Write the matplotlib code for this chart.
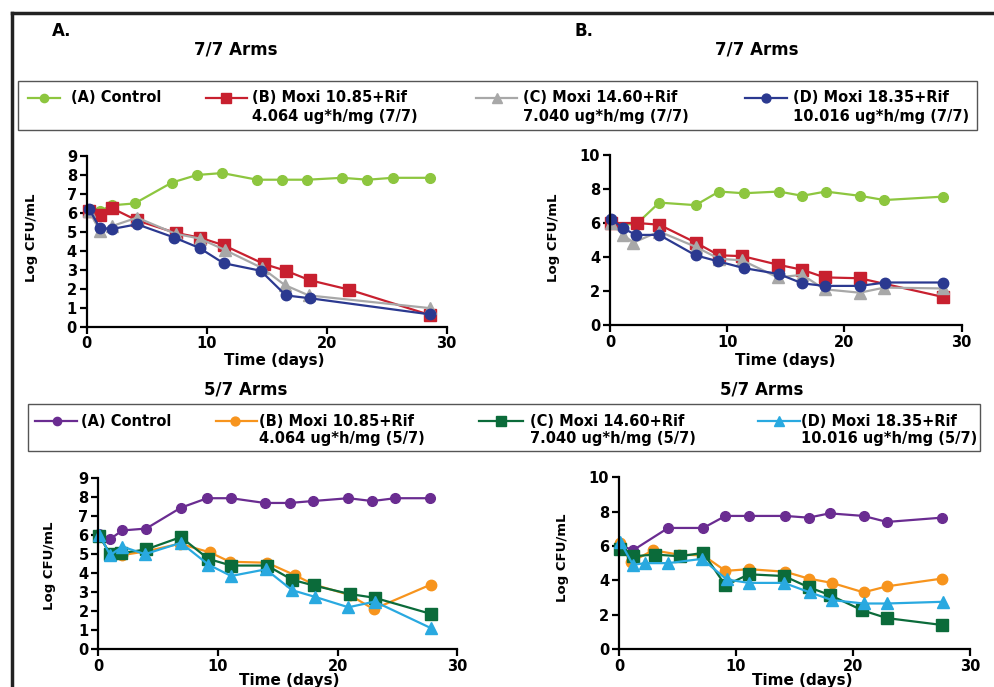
import matplotlib
matplotlib.use("Agg")
import matplotlib.pyplot as plt
from matplotlib.lines import Line2D
from matplotlib.patches import Rectangle

# ---- panel A : 7/7 arms, first study ----
a_ctrl_days = [0.2, 1.1, 2.1, 4.0, 7.1, 9.2, 11.3, 14.2, 16.3, 18.4, 21.3, 23.4, 25.5, 28.6]
a_ctrl = [6.2, 6.1, 6.4, 6.5, 7.6, 8.0, 8.1, 7.75, 7.75, 7.75, 7.85, 7.75, 7.85, 7.85]
a_b_days = [0.2, 1.1, 2.1, 4.2, 7.4, 9.4, 11.4, 14.8, 16.6, 18.6, 21.9, 28.6]
a_b = [6.1, 5.9, 6.25, 5.6, 4.95, 4.7, 4.3, 3.3, 2.95, 2.45, 1.95, 0.62]
a_c_days = [0.2, 1.1, 2.1, 4.2, 7.4, 9.4, 11.5, 14.6, 16.5, 18.5, 28.6]
a_c = [6.1, 5.05, 5.3, 5.75, 4.9, 4.65, 4.05, 3.1, 2.2, 1.65, 0.98]
a_d_days = [0.2, 1.1, 2.1, 4.2, 7.3, 9.4, 11.4, 14.5, 16.6, 18.6, 28.6]
a_d = [6.2, 5.2, 5.15, 5.4, 4.7, 4.15, 3.35, 2.95, 1.65, 1.5, 0.65]

# ---- panel B : 7/7 arms, second study ----
b_ctrl_days = [0.1, 2.2, 4.2, 7.3, 9.3, 11.4, 14.4, 16.4, 18.4, 21.3, 23.4, 28.4]
b_ctrl = [6.0, 5.9, 7.2, 7.05, 7.85, 7.75, 7.85, 7.6, 7.85, 7.6, 7.35, 7.55]
b_b_days = [0.1, 2.3, 4.2, 7.3, 9.3, 11.3, 14.3, 16.4, 18.3, 21.3, 28.4]
b_b = [6.0, 6.0, 5.9, 4.85, 4.1, 4.05, 3.55, 3.25, 2.8, 2.75, 1.65]
b_c_days = [0.1, 1.1, 2.0, 4.2, 7.3, 9.3, 11.3, 14.3, 16.4, 18.3, 21.3, 23.4, 28.4]
b_c = [6.0, 5.3, 4.85, 5.5, 4.6, 3.9, 3.8, 2.8, 2.95, 2.1, 1.9, 2.2, 2.15]
b_d_days = [0.1, 1.1, 2.2, 4.2, 7.3, 9.2, 11.4, 14.4, 16.4, 18.3, 21.3, 23.5, 28.4]
b_d = [6.25, 5.7, 5.3, 5.3, 4.1, 3.75, 3.35, 3.0, 2.45, 2.3, 2.3, 2.5, 2.5]

# ---- panel C : 5/7 arms, first study ----
c_ctrl_days = [0.1, 1.0, 2.0, 4.0, 6.9, 9.1, 11.1, 13.9, 16.0, 17.9, 20.9, 22.9, 24.8, 27.7]
c_ctrl = [6.05, 5.8, 6.25, 6.35, 7.45, 7.95, 7.95, 7.7, 7.7, 7.8, 7.95, 7.8, 7.95, 7.95]
c_b_days = [0.1, 1.0, 2.0, 4.0, 6.8, 9.3, 11.0, 14.1, 16.4, 18.0, 21.0, 23.0, 27.8]
c_b = [5.95, 5.0, 4.95, 5.15, 5.55, 5.1, 4.6, 4.55, 3.9, 3.4, 2.85, 2.1, 3.4]
c_c_days = [0.1, 1.0, 1.9, 4.0, 6.9, 9.2, 11.1, 14.1, 16.2, 18.0, 21.0, 23.1, 27.8]
c_c = [5.95, 5.0, 5.05, 5.25, 5.9, 4.75, 4.4, 4.4, 3.65, 3.35, 2.9, 2.7, 1.85]
c_d_days = [0.1, 1.0, 2.0, 3.9, 6.9, 9.2, 11.1, 14.0, 16.2, 18.1, 20.9, 23.1, 27.8]
c_d = [6.0, 4.95, 5.4, 5.0, 5.6, 4.45, 3.85, 4.2, 3.1, 2.75, 2.2, 2.5, 1.1]

# ---- panel D : 5/7 arms, second study ----
d_ctrl_days = [0.1, 1.2, 4.2, 7.2, 9.1, 11.1, 14.2, 16.2, 18.0, 20.9, 22.9, 27.6]
d_ctrl = [6.05, 5.75, 7.05, 7.05, 7.75, 7.75, 7.75, 7.65, 7.9, 7.75, 7.4, 7.65]
d_b_days = [0.1, 1.0, 2.9, 5.1, 7.2, 9.1, 11.1, 14.2, 16.2, 18.2, 20.9, 22.9, 27.6]
d_b = [6.15, 5.05, 5.75, 5.5, 5.45, 4.55, 4.65, 4.5, 4.1, 3.85, 3.3, 3.65, 4.1]
d_c_days = [0.1, 1.2, 3.1, 5.2, 7.2, 9.1, 11.1, 14.1, 16.2, 18.0, 20.8, 22.9, 27.6]
d_c = [5.85, 5.4, 5.5, 5.4, 5.6, 3.7, 4.35, 4.25, 3.6, 3.15, 2.25, 1.8, 1.4]
d_d_days = [0.1, 1.2, 2.2, 4.2, 7.1, 9.2, 11.1, 14.1, 16.3, 18.2, 20.9, 22.9, 27.7]
d_d = [6.25, 4.9, 5.0, 5.0, 5.25, 4.05, 3.85, 3.85, 3.3, 2.85, 2.65, 2.65, 2.75]

labels_77 = ["(A) Control",
             "(B) Moxi 10.85+Rif\n4.064 ug*h/mg (7/7)",
             "(C) Moxi 14.60+Rif\n7.040 ug*h/mg (7/7)",
             "(D) Moxi 18.35+Rif\n10.016 ug*h/mg (7/7)"]
labels_57 = ["(A) Control",
             "(B) Moxi 10.85+Rif\n4.064 ug*h/mg (5/7)",
             "(C) Moxi 14.60+Rif\n7.040 ug*h/mg (5/7)",
             "(D) Moxi 18.35+Rif\n10.016 ug*h/mg (5/7)"]

# colour, marker, marker size
style_77 = [("#8DC63F", "o", 7), ("#C8202F", "s", 8), ("#A8A8A8", "^", 8), ("#2B3990", "o", 7.5)]
style_57 = [("#6A2C91", "o", 7), ("#F7941D", "o", 7.5), ("#0B6B3A", "s", 8), ("#29A9E0", "^", 8)]

W, H = 995, 687


def fx(px):
    return px / W


def fy(py):
    return 1 - py / H


def panel(fig, rect, series, styles, ymax, ystep, xlab_pos, ylab_pos):
    ax = fig.add_axes(rect)
    for (days, vals), (col, mk, ms) in zip(series, styles):
        ax.plot(days, vals, color=col, marker=mk, ms=ms, lw=1.6, clip_on=False)
    ax.set_xlim(0, 30)
    ax.set_ylim(0, ymax)
    ax.set_xticks([0, 10, 20, 30])
    ax.set_yticks(range(0, ymax + 1, ystep))
    for s in ["top", "right"]:
        ax.spines[s].set_visible(False)
    for s in ["left", "bottom"]:
        ax.spines[s].set_linewidth(1.6)
    ax.tick_params(direction="out", length=5, width=1.6, labelsize=10.5, pad=2)
    for t in ax.get_xticklabels() + ax.get_yticklabels():
        t.set_fontweight("bold")
    ax.set_xlabel("Time (days)", fontsize=11, fontweight="bold", va="center")
    ax.xaxis.set_label_coords(*xlab_pos)
    ax.set_ylabel("Log CFU/mL", fontsize=9.5, fontweight="bold", va="center")
    ax.yaxis.set_label_coords(*ylab_pos)
    return ax


def legend_box(fig, box, row_y, entries, labels, styles):
    x0, y0, x1, y1 = box
    fig.add_artist(Rectangle((fx(x0), fy(y1)), fx(x1 - x0), (y1 - y0) / H,
                             transform=fig.transFigure, fill=False,
                             edgecolor="#555555", lw=1.0))
    for (lx0, lx1, mx, tx), lab, (col, mk, ms) in zip(entries, labels, styles):
        fig.add_artist(Line2D([fx(lx0), fx(lx1)], [fy(row_y), fy(row_y)],
                              transform=fig.transFigure, color=col, lw=1.6))
        fig.add_artist(Line2D([fx(mx)], [fy(row_y)], transform=fig.transFigure,
                              color=col, marker=mk, ms=ms * 0.85, lw=0))
        for i, part in enumerate(lab.split("\n")):
            fig.text(fx(tx), fy(row_y + 18 * i), part, fontsize=10.5,
                     fontweight="bold", va="center", ha="left")


def main():
    fig = plt.figure(figsize=(9.95, 6.87), dpi=100)

    # outer frame (cropped figure box)
    fig.add_artist(Line2D([fx(12), fx(995)], [fy(13), fy(13)],
                          transform=fig.transFigure, color="#222222", lw=2.5))
    fig.add_artist(Line2D([fx(12), fx(12)], [fy(13), fy(687)],
                          transform=fig.transFigure, color="#222222", lw=2.5))

    fig.text(fx(52), fy(31), "A.", fontsize=12, fontweight="bold", va="center")
    fig.text(fx(574), fy(31), "B.", fontsize=12, fontweight="bold", va="center")
    fig.text(fx(236), fy(50), "7/7 Arms", fontsize=12, fontweight="bold", ha="center", va="center")
    fig.text(fx(757), fy(50), "7/7 Arms", fontsize=12, fontweight="bold", ha="center", va="center")
    fig.text(fx(246), fy(390), "5/7 Arms", fontsize=12, fontweight="bold", ha="center", va="center")
    fig.text(fx(762), fy(390), "5/7 Arms", fontsize=12, fontweight="bold", ha="center", va="center")

    legend_box(fig, (18, 81, 977, 130), 98,
               [(28, 60, 44, 71), (206, 247, 226, 252), (476, 517, 497, 523), (745, 787, 766, 793)],
               labels_77, style_77)
    legend_box(fig, (28, 404, 980, 451), 421,
               [(35, 77, 57, 81), (216, 257, 235, 259), (479, 523, 501, 530), (758, 800, 779, 801)],
               labels_57, style_57)

    panel(fig, [fx(86.7), fy(326.7), fx(360), 170.7 / H],
          [(a_ctrl_days, a_ctrl), (a_b_days, a_b), (a_c_days, a_c), (a_d_days, a_d)],
          style_77, 9, 1, (0.52, -0.2), (-0.152, 0.52))
    panel(fig, [fx(610), fy(325), fx(351.7), 170 / H],
          [(b_ctrl_days, b_ctrl), (b_b_days, b_b), (b_c_days, b_c), (b_d_days, b_d)],
          style_77, 10, 2, (0.498, -0.206), (-0.162, 0.515))
    panel(fig, [fx(98.3), fy(649), fx(359), 170.7 / H],
          [(c_ctrl_days, c_ctrl), (c_b_days, c_b), (c_c_days, c_c), (c_d_days, c_d)],
          style_57, 9, 1, (0.531, -0.187), (-0.135, 0.49))
    panel(fig, [fx(619), fy(649), fx(351), 171.7 / H],
          [(d_ctrl_days, d_ctrl), (d_b_days, d_b), (d_c_days, d_c), (d_d_days, d_d)],
          style_57, 10, 2, (0.521, -0.186), (-0.16, 0.53))

    fig.savefig("out.png", dpi=100)


if __name__ == '__main__':
    main()
